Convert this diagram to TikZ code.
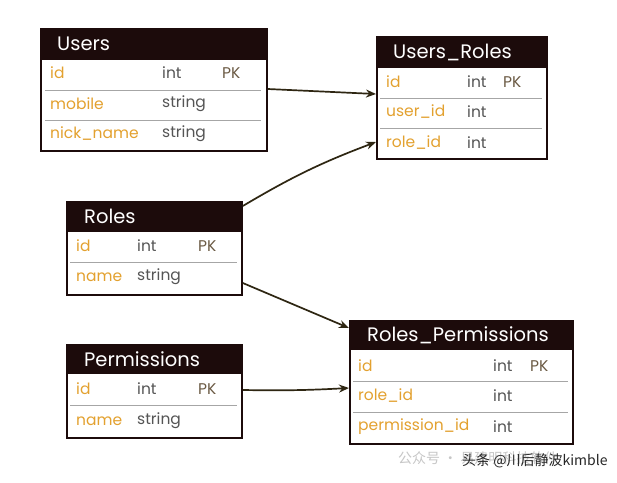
\documentclass[tikz,border=0pt]{standalone}
\usepackage{fontspec}
\setmainfont{Poppins}
\newfontfamily\cjkfont{Noto Sans CJK SC}
\usetikzlibrary{arrows.meta}
\definecolor{hdrc}{HTML}{1C0B0B}
\definecolor{fname}{HTML}{E3A12F}
\definecolor{ftype}{HTML}{555555}
\definecolor{fpk}{HTML}{6B5A44}
\definecolor{arrc}{HTML}{2E2612}
\tikzset{
  frame/.style={draw=hdrc, line width=1.8pt, inner sep=0pt, anchor=north west},
  hdrfill/.style={fill=hdrc},
  hdrtext/.style={text=white, font=\fontsize{19.5}{21}\selectfont, anchor=west, inner sep=0pt},
  fld/.style={text=fname, font=\fontsize{15.5}{17}\selectfont, anchor=west, inner sep=0pt},
  typ/.style={text=ftype, font=\fontsize{15.5}{17}\selectfont, anchor=west, inner sep=0pt},
  pk/.style={text=fpk, font=\fontsize{15.5}{17}\selectfont, anchor=west, inner sep=0pt},
  sep/.style={draw=gray!70, line width=0.8pt},
  arr/.style={draw=arrc, line width=1.7pt, -{Stealth[length=10pt,width=8pt]}},
}
\begin{document}
\begin{tikzpicture}[x=1pt,y=-1pt]
\useasboundingbox (0,0) rectangle (617,482);
\fill[white] (0,0) rectangle (617,482);

% ---------- Users ----------
\fill[hdrfill] (40,28) rectangle (266,60);
\node[frame, minimum width=226pt, minimum height=122pt] (users) at (40,28) {};
\node[hdrtext] (usersT) at (57,44) {Users};
\node[fld] (u1) at (50,73) {id};
\node[typ] (u1t) at (162,73) {int};
\node[pk] (u1p) at (222,73) {PK};
\node[fld] (u2) at (50,104) {mobile};
\node[typ] (u2t) at (162,104) {string};
\node[fld] (u3) at (50,134) {nick\_name};
\node[typ] (u3t) at (162,134) {string};
\draw[sep] (45,90) -- (261,90);
\draw[sep] (45,120) -- (261,120);

% ---------- Users_Roles ----------
\fill[hdrfill] (376,36) rectangle (546,68);
\node[frame, minimum width=170pt, minimum height=122pt] (ur) at (376,36) {};
\node[hdrtext] (urT) at (393,52) {Users\_Roles};
\node[fld] (r1) at (386,82) {id};
\node[typ] (r1t) at (467,82) {int};
\node[pk] (r1p) at (503,82) {PK};
\node[fld] (r2) at (386,112) {user\_id};
\node[typ] (r2t) at (467,112) {int};
\node[fld] (r3) at (386,143) {role\_id};
\node[typ] (r3t) at (467,143) {int};
\draw[sep] (380,98) -- (542,98);
\draw[sep] (380,128) -- (542,128);

% ---------- Roles ----------
\fill[hdrfill] (66,201) rectangle (241,232);
\node[frame, minimum width=175pt, minimum height=93pt] (roles) at (66,201) {};
\node[hdrtext] (rolesT) at (84,216) {Roles};
\node[fld] (o1) at (76,246) {id};
\node[typ] (o1t) at (137,246) {int};
\node[pk] (o1p) at (198,246) {PK};
\node[fld] (o2) at (76,277) {name};
\node[typ] (o2t) at (137,277) {string};
\draw[sep] (70,262) -- (237,262);

% ---------- Permissions ----------
\fill[hdrfill] (66,344) rectangle (241,374);
\node[frame, minimum width=175pt, minimum height=93pt] (perm) at (66,344) {};
\node[hdrtext] (permT) at (84,359) {Permissions};
\node[fld] (p1) at (76,389) {id};
\node[typ] (p1t) at (137,389) {int};
\node[pk] (p1p) at (198,389) {PK};
\node[fld] (p2) at (76,421) {name};
\node[typ] (p2t) at (137,421) {string};
\draw[sep] (70,405) -- (237,405);

% ---------- Roles_Permissions ----------
\fill[hdrfill] (349,320) rectangle (572,350);
\node[frame, minimum width=223pt, minimum height=123pt] (rp) at (349,320) {};
\node[hdrtext] (rpT) at (367,335) {Roles\_Permissions};
\node[fld] (q1) at (358,366) {id};
\node[typ] (q1t) at (493,366) {int};
\node[pk] (q1p) at (530,366) {PK};
\node[fld] (q2) at (358,396) {role\_id};
\node[typ] (q2t) at (493,396) {int};
\node[fld] (q3) at (358,427) {permission\_id};
\node[typ] (q3t) at (493,427) {int};
\draw[sep] (353,381) -- (568,381);
\draw[sep] (353,412) -- (568,412);

% ---------- connectors ----------
\draw[arr] (users.east |- 0,89) -- (ur.west |- 0,94);
\draw[arr] (roles.north east |- 0,206) to[bend left=5] (ur.west |- 0,142);
\draw[arr] (roles.east |- 0,283) -- (rp.west |- 0,328);
\draw[arr] (perm.east |- 0,390) to[bend right=2] (rp.west |- 0,388);

% ---------- watermark ----------
\node[text=gray!45, font=\cjkfont\fontsize{14}{16}\selectfont, anchor=west, inner sep=0pt] (wm1) at (398,458) {公众号 · 易建明科技软件};
\node[text=black!85, font=\cjkfont\fontsize{14}{16}\selectfont, anchor=west, inner sep=0pt] (wm2) at (462,461) {头条 @川后静波kimble};
\end{tikzpicture}
\end{document}
